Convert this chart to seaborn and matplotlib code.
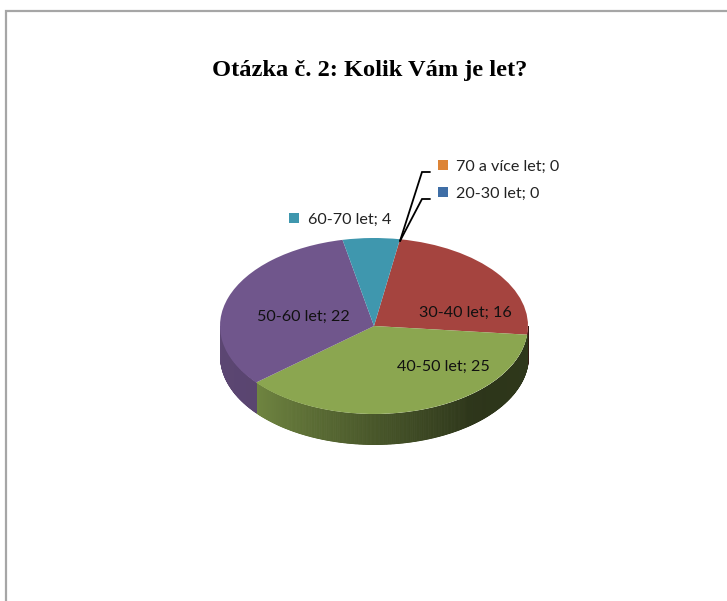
import numpy as np
import matplotlib
matplotlib.use("Agg")
import matplotlib.pyplot as plt
from matplotlib.lines import Line2D
import seaborn as sns

categories = ["20-30 let", "30-40 let", "40-50 let", "50-60 let", "60-70 let", "70 a více let"]
values = [0, 16, 25, 22, 4, 0]
title = "Otázka č. 2: Kolik Vám je let?"
hex_colors = ["#3f6ea6", "#a5443f", "#8ba650", "#70568c", "#3f97ae", "#dd8436"]

W, H = 727, 601
CX, CY, RX, RY, DEPTH = 374.0, 326.0, 154.0, 88.0, 30.0
START = 9.7  # degrees clockwise from the top

sns.set_theme(style="white")
plt.rcParams["font.family"] = ["Lato", "DejaVu Sans"]
palette = sns.color_palette(hex_colors)

fig = plt.figure(figsize=(W / 100, H / 100), dpi=100, facecolor="white")
ax = fig.add_axes([0, 0, 1, 1])


def ux(px):
    return (px - CX) / RX


def uy(py):
    return (CY - py) / RY


# Side wall, shaded along the angle
fracs = np.array(values, dtype=float) / sum(values)
edges = START + 360 * np.concatenate([[0], np.cumsum(fracs)])
for i, col in enumerate(palette):
    a0, a1 = edges[i], edges[i + 1]
    lo, hi = max(a0, 90.0), min(a1, 270.0)
    if hi <= lo:
        continue
    th = np.linspace(lo, hi, int((hi - lo) * 2) + 2)
    for t0, t1 in zip(th[:-1], th[1:]):
        f = np.interp((t0 + t1) / 2, [90, 140, 180, 230, 270], [0.34, 0.32, 0.52, 0.8, 0.82])
        shade = tuple(c * f for c in col)
        seg = np.radians(np.linspace(t0, t1, 4))
        xs = np.sin(seg)
        ys = np.cos(seg)
        ax.fill_between(xs, ys, ys - DEPTH / RY, facecolor=shade, edgecolor=shade, lw=0.6, zorder=1)

# Top face
ax.pie(values, colors=palette, startangle=90 - START, counterclock=False,
       radius=1.0, wedgeprops={"linewidth": 0, "zorder": 2})
ax.set_aspect("auto")
ax.set_xlim(ux(0), ux(W))
ax.set_ylim(uy(H), uy(0))

# Title
ax.text(ux(370), uy(70), title, family="Liberation Serif", fontweight="bold",
        fontsize=17.6, color="black", ha="center", va="center", zorder=5)

# Labels
label_text = [f"{c}; {v}" for c, v in zip(categories, values)]
FS = 11.6
ax.text(ux(465), uy(313), label_text[1], fontsize=FS, color="#111111", ha="center", va="center", zorder=5)
ax.text(ux(443), uy(367), label_text[2], fontsize=FS, color="#111111", ha="center", va="center", zorder=5)
ax.text(ux(303), uy(317), label_text[3], fontsize=FS, color="#111111", ha="center", va="center", zorder=5)
for idx, kx, ky, tx in [(4, 294, 218, 308), (5, 443, 165, 456), (0, 443, 192, 456)]:
    ax.scatter([ux(kx)], [uy(ky)], marker="s", s=50, color=[palette[idx]], linewidths=0, zorder=5)
    ax.text(ux(tx), uy(ky + 2), label_text[idx], fontsize=FS, color="#222222", ha="left", va="center", zorder=5)

# Leader lines
for ky in (172, 199):
    ax.plot([ux(400), ux(422), ux(430)], [uy(241), uy(ky), uy(ky)], color="black", lw=1.3,
            solid_joinstyle="miter", zorder=4)

# Outer chart border
border = "#a6a6a6"
fig.add_artist(Line2D([6 / W, 6 / W, 1], [0, 1 - 11 / H, 1 - 11 / H], color=border, lw=1.6,
                      solid_joinstyle="miter"))

fig.savefig("out.png", dpi=100, facecolor="white")
